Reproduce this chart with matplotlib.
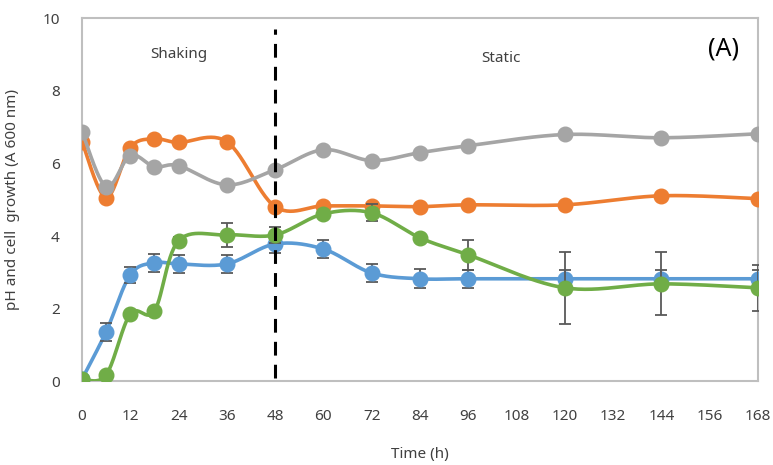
import numpy as np
import matplotlib
matplotlib.use("Agg")
import matplotlib.pyplot as plt

plt.rcParams['font.family'] = ['Noto Sans', 'DejaVu Sans']

# Sampling times (h)
time_h = [0, 6, 12, 18, 24, 36, 48, 60, 72, 84, 96, 120, 144, 168]

# Series values
blue_vals = [0.05, 1.36, 2.93, 3.26, 3.23, 3.23, 3.78, 3.64, 2.98, 2.82, 2.82, 2.82, 2.82, 2.82]
blue_err = [0.05, 0.25, 0.22, 0.25, 0.25, 0.25, 0.25, 0.26, 0.26, 0.26, 0.25, 0.25, 0.25, 0.25]

orange_vals = [6.60, 5.06, 6.44, 6.68, 6.58, 6.60, 4.81, 4.83, 4.83, 4.81, 4.86, 4.86, 5.11, 5.03]

gray_vals = [6.88, 5.36, 6.22, 5.91, 5.94, 5.41, 5.83, 6.38, 6.08, 6.30, 6.49, 6.80, 6.71, 6.82]

green_vals = [0.05, 0.17, 1.85, 1.93, 3.87, 4.03, 4.03, 4.61, 4.64, 3.95, 3.48, 2.57, 2.68, 2.57]
green_err = [0.0, 0.0, 0.0, 0.0, 0.1, 0.33, 0.22, 0.0, 0.23, 0.0, 0.41, 1.0, 0.87, 0.63]

x_ticks = list(range(0, 169, 12))
y_ticks = [0, 2, 4, 6, 8, 10]

BLUE = "#5B9BD5"
ORANGE = "#ED7D31"
GRAY = "#A5A5A5"
GREEN = "#70AD47"
FRAME = "#BFBFBF"
TEXT = "#404040"


def smooth(x, y, n=30):
    """Catmull-Rom style Bezier smoothing through every point."""
    x = np.asarray(x, float)
    y = np.asarray(y, float)
    pts = np.column_stack([x, y])
    out = [pts[0]]
    t = np.linspace(0, 1, n)[1:]
    for i in range(len(pts) - 1):
        p0 = pts[i - 1] if i > 0 else pts[i]
        p1 = pts[i]
        p2 = pts[i + 1]
        p3 = pts[i + 2] if i + 2 < len(pts) else pts[i + 1]
        c1 = p1 + (p2 - p0) / 6.0
        c2 = p2 - (p3 - p1) / 6.0
        seg = ((1 - t) ** 3)[:, None] * p1 + (3 * (1 - t) ** 2 * t)[:, None] * c1 \
            + (3 * (1 - t) * t ** 2)[:, None] * c2 + (t ** 3)[:, None] * p2
        out.extend(seg)
    out = np.array(out)
    return out[:, 0], out[:, 1]


fig = plt.figure(figsize=(7.73, 4.65), dpi=100)
ax = fig.add_axes([82 / 773, (465 - 381) / 465, (758 - 82) / 773, (381 - 18.5) / 465])

series = [
    (blue_vals, blue_err, BLUE),
    (orange_vals, None, ORANGE),
    (gray_vals, None, GRAY),
    (green_vals, green_err, GREEN),
]

for k, (vals, err, col) in enumerate(series):
    z = 3 + k
    sx, sy = smooth(time_h, vals)
    ax.plot(sx, sy, color=col, lw=2.6, zorder=z, solid_capstyle='round')
    if err is not None:
        ex = [t for t, e in zip(time_h, err) if e > 0]
        ey = [v for v, e in zip(vals, err) if e > 0]
        ee = [e for e in err if e > 0]
        ax.errorbar(ex, ey, yerr=ee, fmt='none', ecolor="#595959", elinewidth=1.3,
                    capsize=4.5, capthick=1.3, zorder=z + 0.1)
    ax.plot(time_h, vals, 'o', color=col, ms=10.5, mec=col, zorder=z + 0.2)

# Phase separator
ax.plot([48, 48], [0.08, 9.7], color='black', lw=2.2, ls=(0, (4.5, 3)), zorder=10)

ax.text(24, 9.0, "Shaking", ha='center', va='center', fontsize=11, color=TEXT)
ax.text(104, 8.9, "Static", ha='center', va='center', fontsize=11, color=TEXT)
ax.text(159.5, 9.15, "(A)", ha='center', va='center', fontsize=18, color='black')

ax.set_xlim(0, 168)
ax.set_ylim(0, 10)
ax.set_xticks(x_ticks)
ax.set_yticks(y_ticks)
ax.tick_params(length=0, labelsize=11, labelcolor=TEXT)
ax.tick_params(axis='x', pad=20)
ax.tick_params(axis='y', pad=16)
for s in ax.spines.values():
    s.set_color(FRAME)
    s.set_linewidth(1.5)

ax.set_xlabel("Time (h)", fontsize=11, color=TEXT, labelpad=17)
ax.set_ylabel("pH and cell  growth (A 600 nm)", fontsize=11, color=TEXT, labelpad=16)

fig.savefig("out.png", dpi=100)
